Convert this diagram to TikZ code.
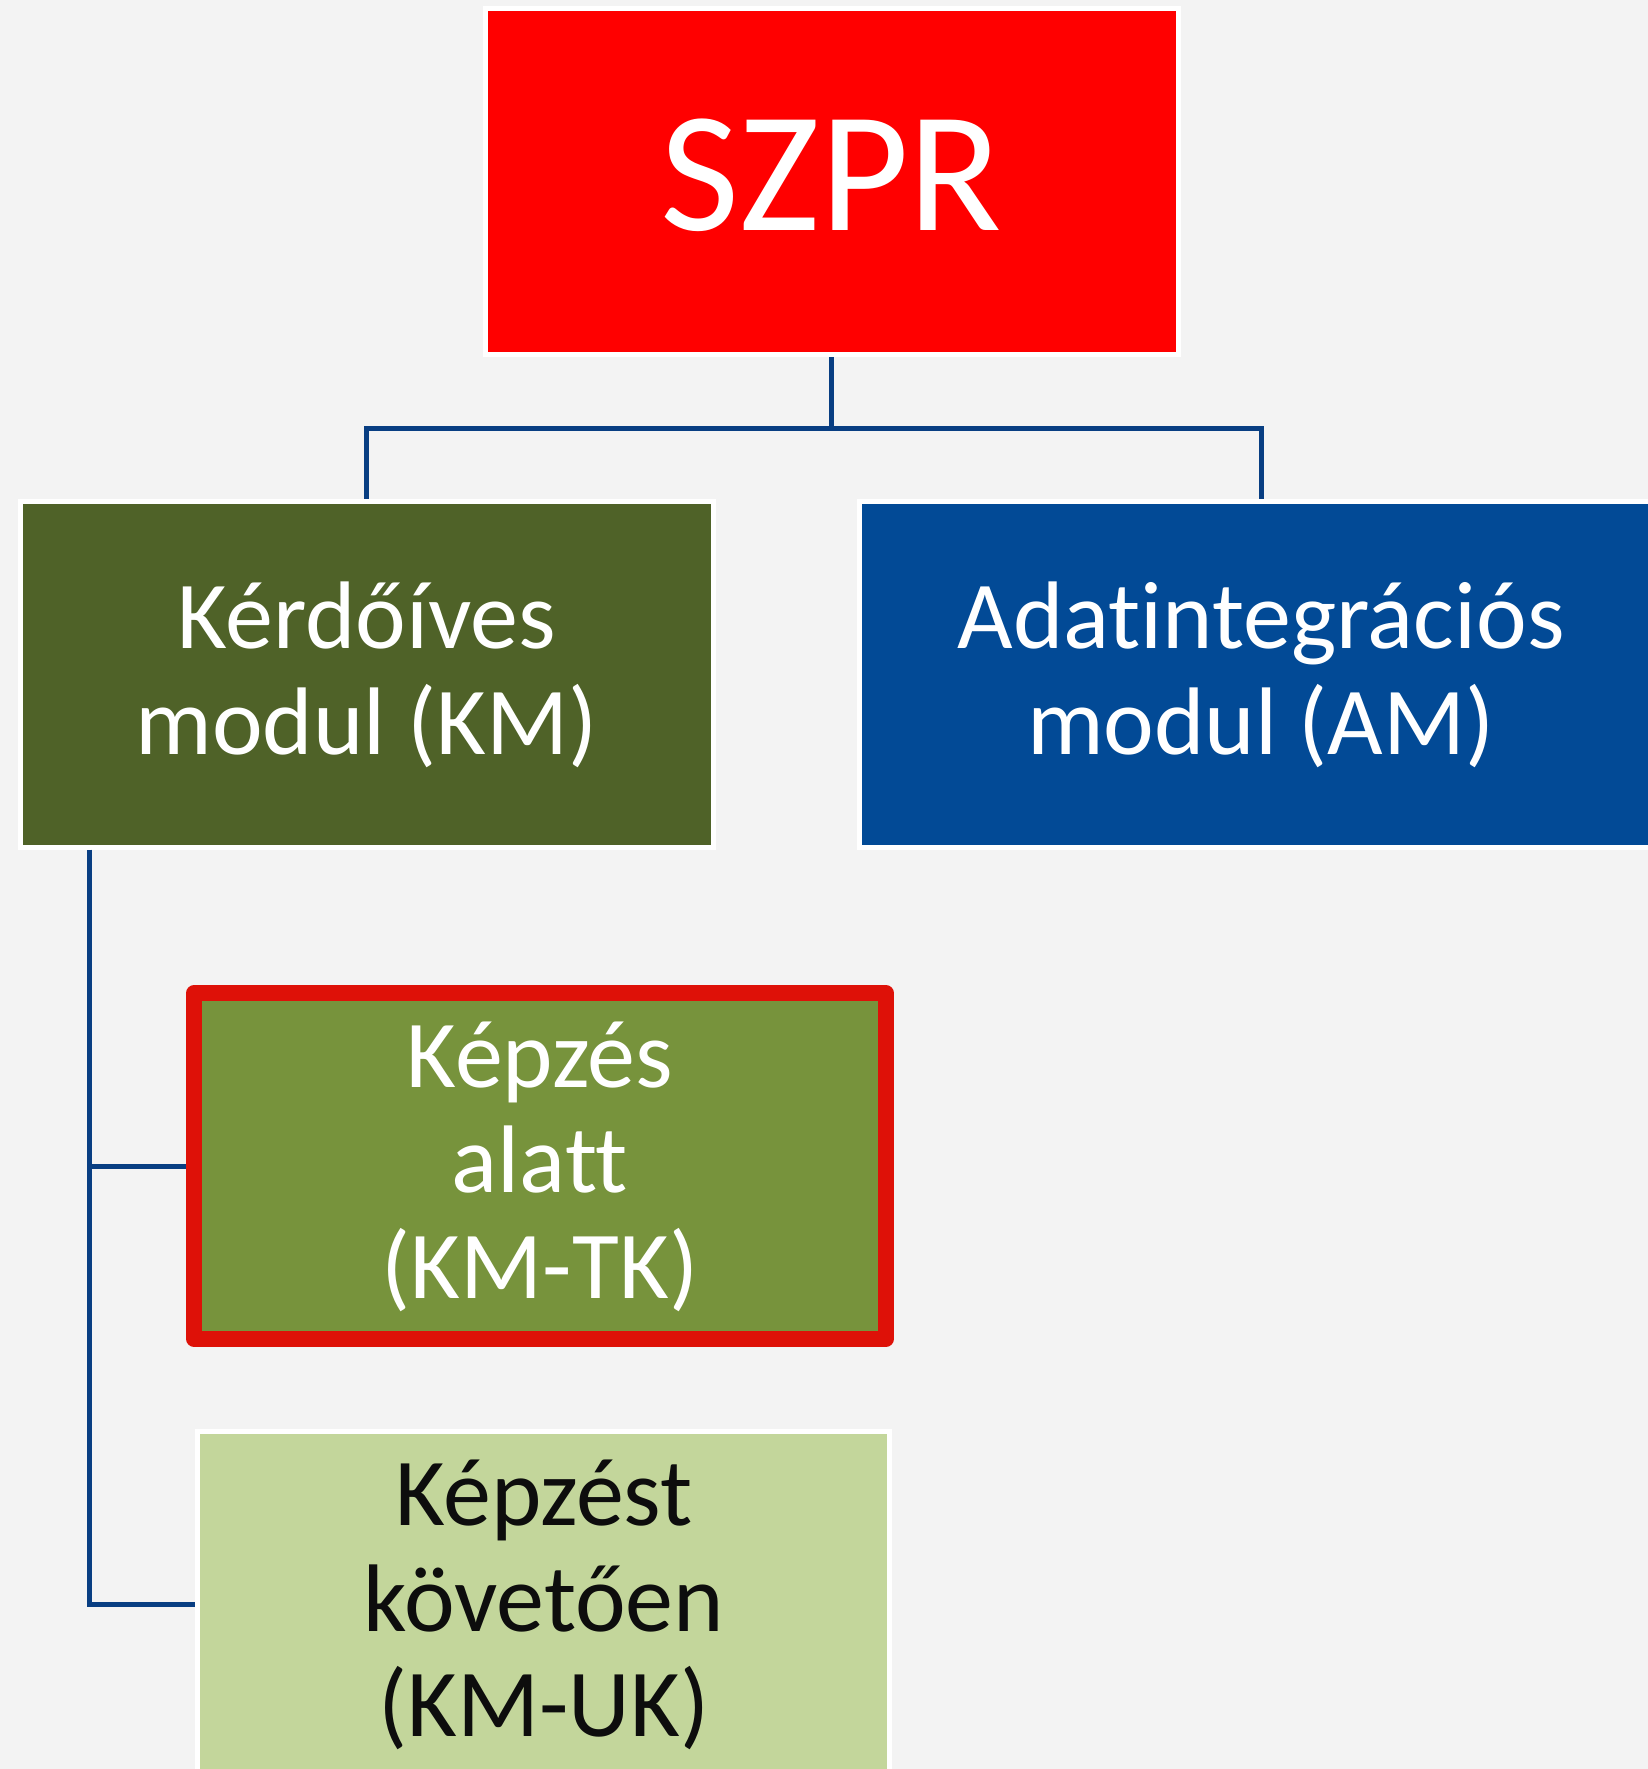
\documentclass[tikz,border=0pt]{standalone}
\usepackage{fontspec}
\setmainfont{Carlito}[Ligatures=NoCommon]
\definecolor{bgcol}{HTML}{F3F3F3}
\definecolor{szprred}{HTML}{FF0000}
\definecolor{kmgreen}{HTML}{4F6228}
\definecolor{tkgreen}{HTML}{77933C}
\definecolor{tkborder}{RGB}{222,17,8}
\definecolor{ukgreen}{HTML}{C3D69B}
\definecolor{amblue}{RGB}{2,74,150}
\definecolor{connblue}{RGB}{8,62,130}
\definecolor{darktext}{RGB}{13,13,13}
\newcommand\kmsubfont{\fontsize{48}{52.75}\selectfont}
\newcommand\kmbigfont{\fontsize{86}{90}\selectfont}
\begin{document}
\begin{tikzpicture}[x=0.5pt,y=-0.5pt,
  box/.style={rectangle, draw=white, line width=2.5pt, inner sep=0pt,
    minimum width=346.5pt, minimum height=173pt, align=center,
    text=white, font=\kmsubfont},
  twoline/.style={text height=80pt, text depth=0pt},
  threeline/.style={text height=132.3pt, text depth=0pt},
  conn/.style={draw=connblue, line width=2.5pt}]
\useasboundingbox (0,0) rectangle (1648,1769);
\clip (0,0) rectangle (1648,1769);
\fill[bgcol] (0,0) rectangle (1648,1769);

\node[box, fill=szprred, font=\kmbigfont, text height=48.5pt, text depth=0pt]
  (szpr) at (831.5,181.5) {SZPR};
\node[box, twoline, fill=kmgreen] (km) at (366.5,674) {Kérdőíves\\modul (KM)};
\node[box, twoline, fill=amblue, minimum width=401.5pt] (am) at (1261,674)
  {Adatintegrációs\\modul (AM)};
\node[box, threeline, fill=tkgreen, draw=tkborder, line width=7.75pt,
  line join=round, minimum width=346pt] (tk) at (540,1166)
  {Képzés\\alatt\\(KM-TK)};
\node[box, threeline, fill=ukgreen, text=darktext, minimum width=346pt]
  (uk) at (543.8,1604.3) {Képzést\\követően\\(KM-UK)};

\coordinate (hub) at (831.5,428);
\coordinate (spine) at (89.8,0);
\draw[conn] (szpr.south) -- (hub);
\draw[conn] (km.north) |- (hub) -| (am.north);
\draw[conn] (km.south -| spine) |- (uk.west);
\draw[conn] (tk.west -| spine) -- (tk.west);
\end{tikzpicture}
\end{document}
